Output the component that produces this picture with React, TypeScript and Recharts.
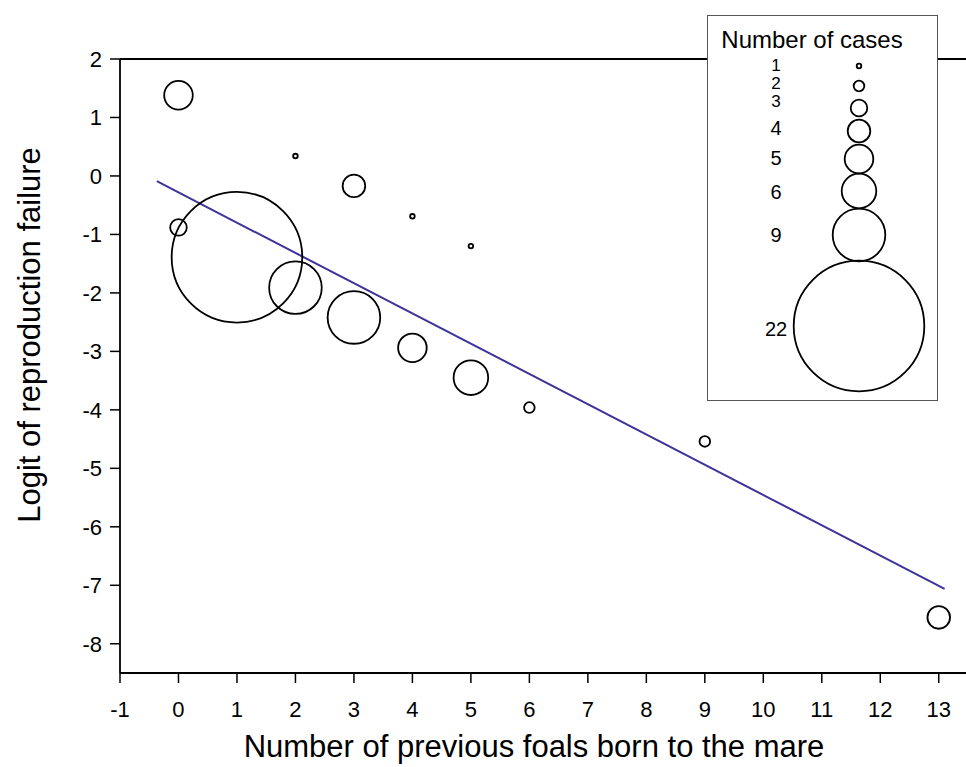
import React from "react";
import {
  ScatterChart,
  Scatter,
  XAxis,
  YAxis,
  ReferenceLine,
} from "recharts";

// previous foals (x), logit of failure (y), number of cases (bubble size)
const foals = [0, 0, 1, 2, 2, 3, 3, 4, 4, 5, 5, 6, 9, 13];
const logits = [1.38, -0.88, -1.39, 0.34, -1.91, -0.17, -2.42, -0.69, -2.94, -1.2, -3.45, -3.96, -4.54, -7.55];
const cases = [5, 3, 22, 1, 9, 4, 9, 1, 5, 1, 6, 2, 2, 4];

// fitted regression line end points
const fitX = [-0.37, 13.1];
const fitY = [-0.09, -7.06];

const legendCases = [1, 2, 3, 4, 5, 6, 9, 22];
const xTicks = [-1, 0, 1, 2, 3, 4, 5, 6, 7, 8, 9, 10, 11, 12, 13];
const yTicks = [-8, -7, -6, -5, -4, -3, -2, -1, 0, 1, 2];

const points = foals.map((x, i) => ({ x, y: logits[i], n: cases[i] }));
const fitData = fitX.map((x, i) => ({ x, y: fitY[i] }));

const FONT = '"Liberation Sans", Arial, sans-serif';
const LINE_COLOR = "#3d3399";

// circle diameter grows linearly with the number of cases
const radius = (n: number) => 3.0 * n - 0.7;

const Bubble = (props: any) => {
  const { cx, cy, payload } = props;
  if (cx == null || cy == null) return <g />;
  return <circle cx={cx} cy={cy} r={radius(payload.n)} fill="none" stroke="#000" strokeWidth={1.8} />;
};

// vertical positions inside the legend box (labels sit a bit tighter than circles)
const legendLabelY = [49, 67, 85, 112, 142, 176, 219, 313];
const legendCircleY = [50, 70, 92, 115, 143, 175, 219, 310];

function CasesLegend() {
  return (
    <div
      style={{
        position: "absolute",
        left: 707,
        top: 15,
        width: 231,
        height: 386,
        boxSizing: "border-box",
        border: "1.5px solid #555",
        background: "#fff",
      }}
    >
      <svg width={228} height={383} style={{ display: "block", fontFamily: FONT }}>
        <text x={104} y={32} textAnchor="middle" fontSize={24} fill="#000">
          Number of cases
        </text>
        {legendCases.map((n, i) => (
          <g key={n}>
            <text x={68} y={legendLabelY[i]} dy="0.36em" textAnchor="middle" fontSize={i < 3 ? 17 : 20} fill="#000">
              {n}
            </text>
            <circle cx={151} cy={legendCircleY[i]} r={radius(n)} fill="none" stroke="#000" strokeWidth={1.8} />
          </g>
        ))}
      </svg>
    </div>
  );
}

export default function App() {
  const tick = { fontSize: 22, fill: "#000", fontFamily: FONT };
  return (
    <div style={{ position: "absolute", left: 0, top: 0, width: 966, height: 767, background: "#fff" }}>
      <ScatterChart width={966} height={767} margin={{ top: 59, right: -2, bottom: 0, left: 0 }}>
        <XAxis
          type="number"
          dataKey="x"
          domain={[-1, 13.5]}
          ticks={xTicks}
          allowDataOverflow
          height={94}
          tickSize={10}
          tickMargin={18}
          tick={tick}
          axisLine={{ stroke: "#000", strokeWidth: 1.8 }}
          tickLine={{ stroke: "#000", strokeWidth: 1.5 }}
          label={{
            value: "Number of previous foals born to the mare",
            position: "insideBottom",
            offset: 10,
            dx: -10,
            style: { fontSize: 31, fill: "#000", fontFamily: FONT },
          }}
        />
        <YAxis
          type="number"
          dataKey="y"
          domain={[-8.5, 2]}
          ticks={yTicks}
          allowDataOverflow
          width={120}
          tickSize={10}
          tickMargin={8}
          tick={tick}
          axisLine={{ stroke: "#000", strokeWidth: 1.8 }}
          tickLine={{ stroke: "#000", strokeWidth: 1.5 }}
          label={{
            value: "Logit of reproduction failure",
            angle: -90,
            position: "center",
            dx: -31,
            dy: -31,
            style: { fontSize: 31, fill: "#000", fontFamily: FONT },
          }}
        />
        <ReferenceLine y={2} stroke="#000" strokeWidth={1.8} />
        <Scatter
          data={fitData}
          line={{ stroke: LINE_COLOR, strokeWidth: 2 }}
          shape={() => <g />}
          isAnimationActive={false}
          legendType="none"
        />
        <Scatter data={points} shape={Bubble} isAnimationActive={false} legendType="none" />
      </ScatterChart>
      <CasesLegend />
    </div>
  );
}
